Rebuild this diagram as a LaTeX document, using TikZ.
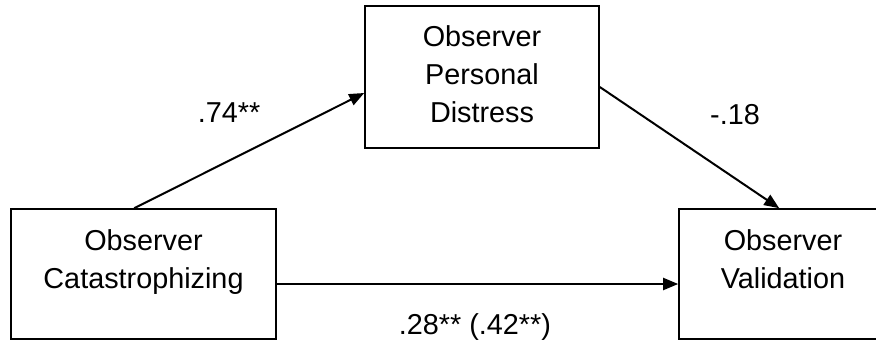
\documentclass[tikz,border=0pt]{standalone}
\usepackage{fontspec}
\setmainfont{Liberation Sans}
\usetikzlibrary{arrows.meta}
\begin{document}
\begin{tikzpicture}[x=1pt,y=-1pt,
  box/.style={draw=black,line width=1.6pt,rectangle,inner sep=0pt},
  txt/.style={inner sep=0pt,align=center,font=\fontsize{28.8}{38}\selectfont},
  arr/.style={line width=2pt,-{Triangle[length=15pt,width=12pt]}}]
\useasboundingbox (0,0) rectangle (876,343);
\fill[white] (0,0) rectangle (876,343);
\node[box,minimum width=265pt,minimum height=130pt] (L) at (143.5,274) {};
\node[box,minimum width=234pt,minimum height=142pt] (M) at (482,77) {};
\node[box,minimum width=208pt,minimum height=130pt] (R) at (783,274) {};
\node[txt] (Lt) at (143.5,261.8) {Observer\\Catastrophizing};
\node[txt] (Mt) at (482,73.8) {Observer\\Personal\\Distress};
\node[txt] (Rt) at (783,258.8) {Observer\\Validation};
\draw[arr] ([xshift=124pt]L.north west) -- ([yshift=-16pt]M.west);
\draw[arr] ([yshift=-10pt]M.east) -- ([xshift=101pt]R.north west);
\draw[arr] ([yshift=-10pt]L.east) -- ([yshift=-10pt]R.west);
\node[txt] (a) at (229,113) {.74**};
\node[txt] (b) at (735,115) {-.18};
\node[txt] (c) at (475,327.5) {.28** (.42**)};
\end{tikzpicture}
\end{document}
